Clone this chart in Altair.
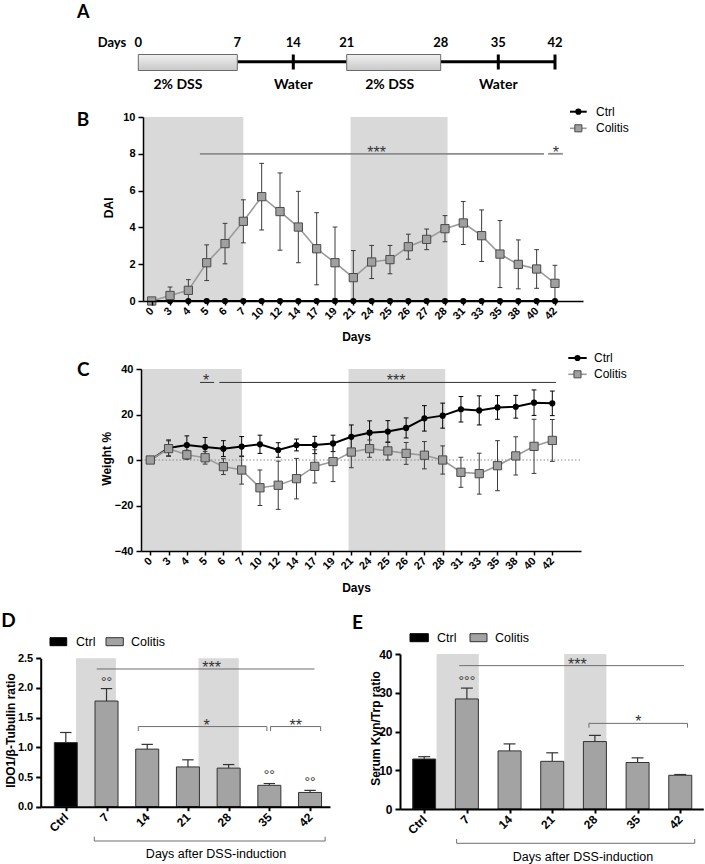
import altair as alt
import pandas as pd

W, H = 705, 864
ARIAL = "Liberation Sans"
CALI = "Lato"
SHADE = "#d9d9d9"
GREY = "#a3a3a3"

# ---------------- Panel A: protocol timeline ----------------
tl_days = [0, 7, 14, 21, 28, 35, 42]
dss_start = [0, 21]
dss_end = [7, 28]
water_start = [7, 28]
water_end = [21, 42]
tick_days = [14, 35, 42]
phase_labels = ["2% DSS", "Water", "2% DSS", "Water"]
phase_day = [2.8, 14, 24.2, 35]

# ---------------- Panels B and C ----------------
days = [0, 3, 4, 5, 6, 7, 10, 12, 14, 17, 19, 21, 24, 25, 26, 27, 28, 31, 33, 35, 38, 40, 42]
series = ["Ctrl", "Colitis"]
dai_ctrl = [0, 0, 0, 0, 0, 0, 0, 0, 0, 0, 0, 0, 0, 0, 0, 0, 0, 0, 0, 0, 0, 0, 0]
dai_colitis = [0, 0.3, 0.58, 2.08, 3.12, 4.33, 5.67, 4.86, 4.02, 2.84, 2.08, 1.27,
               2.12, 2.25, 2.95, 3.35, 3.93, 4.24, 3.55, 2.55, 1.99, 1.74, 0.96]
dai_colitis_sd = [0, 0.46, 0.58, 0.97, 1.1, 1.17, 1.81, 2.1, 1.94, 1.96, 1.94, 1.47,
                  0.9, 0.77, 0.68, 0.56, 0.71, 1.17, 1.4, 1.82, 1.33, 1.05, 0.98]
wt_ctrl = [0, 5.3, 6.6, 5.7, 5.0, 5.9, 6.9, 4.4, 6.6, 6.6, 7.3, 10.2,
           12.0, 12.5, 14.1, 18.3, 19.5, 22.3, 21.8, 23.1, 23.4, 25.2, 24.9]
wt_ctrl_sd = [0, 3.5, 4.0, 4.2, 3.5, 4.4, 4.0, 3.2, 2.6, 3.8, 3.6, 5.2,
              5.2, 4.8, 4.4, 5.6, 5.5, 5.6, 6.4, 5.2, 5.0, 5.6, 5.4]
wt_colitis = [0, 5.0, 2.3, 1.0, -2.9, -4.4, -12.2, -11.1, -8.2, -2.8, -0.7, 3.5,
              5.0, 4.0, 2.9, 2.1, 0.0, -5.4, -6.0, -2.5, 1.8, 6.0, 8.6]
wt_colitis_sd = [0, 3.4, 2.0, 2.8, 3.5, 6.2, 7.8, 10.6, 8.9, 7.3, 8.8, 6.9,
                 3.8, 4.0, 4.8, 6.0, 6.2, 6.6, 9.0, 11.0, 8.4, 11.9, 9.2]

# significance annotations (x in category-index units)
B_sig_x1 = [2.63, 21.63]
B_sig_x2 = [21.4, 22.43]
B_sig_y = [8.0, 8.0]
B_sig_lab = ["***", "*"]
B_sig_lx = [12.27, 22.05]
C_sig_x1 = [2.72, 3.78]
C_sig_x2 = [3.49, 22.2]
C_sig_y = [34.1, 34.1]
C_sig_lab = ["*", "***"]
C_sig_lx = [3.05, 13.45]
BC_shade2 = [10.85, 16.14]
BC_shade1_end = 5.0

# ---------------- Panels D and E ----------------
groups = ["Ctrl", "7", "14", "21", "28", "35", "42"]
ido1 = [1.08, 1.78, 0.97, 0.67, 0.65, 0.36, 0.24]
ido1_err = [0.17, 0.21, 0.08, 0.12, 0.06, 0.03, 0.035]
kyn = [12.9, 28.4, 15.0, 12.3, 17.4, 12.0, 8.7]
kyn_err = [0.6, 2.8, 1.8, 2.2, 1.6, 1.2, 0.2]

D_shade_s = [0.25, 3.26]
D_shade_e = [1.23, 4.25]
E_shade_s = [0.29, 3.28]
E_shade_e = [1.28, 4.27]

D_line_x1 = [0.76]
D_line_x2 = [6.11]
D_line_y = [2.32]
D_line_lab = ["***"]
D_line_lx = [3.58]
D_br_x1 = [1.78, 5.03]
D_br_x2 = [4.94, 6.26]
D_br_y = [1.35, 1.35]
D_br_drop = 0.075
D_br_lab = ["*", "**"]
D_br_lx = [3.46, 5.65]
D_circ_idx = [1, 5, 6]
D_circ_y = [2.16, 0.60, 0.48]
D_circ_lab = ["°°", "°°", "°°"]

E_line_x1 = [0.82]
E_line_x2 = [6.09]
E_line_y = [37.0]
E_line_lab = ["***"]
E_line_lx = [3.59]
E_br_x1 = [3.86]
E_br_x2 = [6.17]
E_br_y = [22.1]
E_br_drop = 1.1
E_br_lab = ["*"]
E_br_lx = [5.02]
E_circ_idx = [1]
E_circ_y = [34.0]
E_circ_lab = ["°°°"]

bottom_label = "Days after DSS-induction"


# ---------------- helpers ----------------
def axis(orient, offset, values, title, tx=None, ty=None, label_list=None, fmt=None, size=11,
         dw=1.5, angle=None, lpad=3, tsize=12, tweight="bold", tick=5):
    kw = dict(orient=orient, offset=offset, values=values, title=title,
              titleFont=ARIAL, titleFontSize=tsize, titleFontWeight=tweight, titleColor="black",
              titleAlign="center", titleBaseline="middle",
              labelFont=ARIAL, labelFontSize=size, labelFontWeight="bold", labelColor="black",
              labelPadding=lpad, labelOverlap=False, labelFlush=False,
              domainColor="black", domainWidth=dw, tickColor="black", tickWidth=dw, tickSize=tick,
              grid=False, zindex=1)
    if tx is not None:
        kw["titleX"] = tx
    if ty is not None:
        kw["titleY"] = ty
    if label_list is not None:
        kw["labelExpr"] = "[" + ",".join("'%s'" % s for s in label_list) + "][datum.value]"
    if fmt:
        kw["format"] = fmt
    if angle is not None:
        kw.update(labelAngle=angle, labelAlign="right", labelBaseline="middle")
    return alt.Axis(**kw)


def lin(domain, rng):
    return alt.Scale(domain=domain, range=rng, nice=False, zero=False, padding=0)


def label(text, x, y, size, font=ARIAL, weight="normal", align="center", baseline="middle", color="black"):
    return alt.Chart(pd.DataFrame({"t": [text]})).mark_text(
        font=font, fontSize=size, fontWeight=weight, align=align, baseline=baseline, color=color
    ).encode(x=alt.value(x), y=alt.value(y), text="t:N")


# ======================= Panel A =======================
sA = alt.Scale(domain=tl_days, range=[138.3, 237.3, 293.3, 346.7, 440.7, 498.3, 555.0],
               nice=False, zero=False, padding=0)
xA = lambda f: alt.X(f, scale=sA, axis=None)
grad = alt.Gradient(gradient="linear",
                    stops=[alt.GradientStop(color="#f0f0f0", offset=0),
                           alt.GradientStop(color="#c8c8c8", offset=1)],
                    x1=0, x2=0, y1=0, y2=1)
A_water = alt.Chart(pd.DataFrame({"s": water_start, "e": water_end})).mark_rule(
    color="black", strokeWidth=3).encode(x=xA("s:Q"), x2="e:Q", y=alt.value(61.7))
A_box = alt.Chart(pd.DataFrame({"s": dss_start, "e": dss_end})).mark_rect(
    fill=grad, stroke="#6a6a6a", strokeWidth=1).encode(
    x=xA("s:Q"), x2="e:Q", y=alt.value(54.5), y2=alt.value(70.5))
A_ticks = alt.Chart(pd.DataFrame({"d": tick_days})).mark_rule(
    color="black", strokeWidth=3).encode(x=xA("d:Q"), y=alt.value(54.5), y2=alt.value(69.5))
A_days = alt.Chart(pd.DataFrame({"d": tl_days})).mark_text(
    font=CALI, fontSize=13, fontWeight="bold", color="black").encode(
    x=xA("d:Q"), y=alt.value(42.5), text="d:Q")
A_phase = alt.Chart(pd.DataFrame({"d": phase_day, "t": phase_labels})).mark_text(
    font=CALI, fontSize=14, fontWeight="bold", color="black").encode(
    x=xA("d:Q"), y=alt.value(85), text="t:N")
panelA = alt.layer(
    A_water, A_box, A_ticks, A_days, A_phase,
    label("Days", 112, 42.5, 13, font=CALI, weight="bold"),
    label("A", 83.3, 12.5, 18, font=CALI, weight="bold"),
    label("B", 83, 119.5, 19, font=CALI, weight="bold"),
    label("C", 83.3, 370, 19, font=CALI, weight="bold"),
    label("D", 8.5, 621, 19, font=CALI, weight="bold"),
    label("E", 357.5, 623, 19, font=CALI, weight="bold"),
)


# ======================= Panels B / C =======================
def line_panel(ctrl, ctrl_sd, col, col_sd, xdom, xr, ydom, yr, yvals, ytitle, ytx, yty,
               xtx, xty, sig, shade_col_line, sigcolor, sigwidth, legend_y, legend_x, clip_zero,
               zero_line):
    n = len(days)
    df = pd.DataFrame({"idx": list(range(n)), "ctrl": ctrl, "csd": ctrl_sd, "col": col, "sd": col_sd})
    sx = lin(xdom, xr)
    sy = lin(ydom, yr)
    ax = axis("bottom", yr[0] - H, list(range(n)), "Days", xtx, xty,
              label_list=[str(d) for d in days], angle=315, lpad=4, size=11, tick=4)
    ay = axis("left", -xr[0], yvals, ytitle, ytx, yty, size=11)
    X = lambda f: alt.X(f, scale=sx, axis=ax)
    Y = lambda f: alt.Y(f, scale=sy, axis=ay)

    layers = []
    shade = alt.Chart(pd.DataFrame({"s": [xdom[0], BC_shade2[0]], "e": [BC_shade1_end, BC_shade2[1]]})
                      ).mark_rect(color=SHADE).encode(
        x=X("s:Q"), x2="e:Q",
        y=alt.YDatum(ydom[0], scale=sy, axis=ay), y2=alt.Y2Datum(ydom[1]))
    layers.append(shade)
    if zero_line:
        layers.append(alt.Chart(pd.DataFrame({"k": [0]})).mark_rule(
            color="#888888", strokeWidth=1, strokeDash=[1.5, 2]).encode(
            x=alt.XDatum(xdom[0], scale=sx, axis=ax), x2=alt.X2Datum(xdom[1]),
            y=alt.YDatum(0, scale=sy, axis=ay)))
    sx1, sx2, sy_, slab, slx = sig
    sigdf = pd.DataFrame({"x1": sx1, "x2": sx2, "y": sy_, "lab": slab, "lx": slx})
    layers.append(alt.Chart(sigdf).mark_rule(color=sigcolor, strokeWidth=sigwidth).encode(
        x=X("x1:Q"), x2="x2:Q", y=Y("y:Q")))
    layers.append(alt.Chart(sigdf).mark_text(font=ARIAL, fontSize=16, color="#333333",
                                             baseline="alphabetic", dy=4).encode(
        x=X("lx:Q"), y=Y("y:Q"), text="lab:N"))

    lo_expr = "max(0, datum.col - datum.sd)" if clip_zero else "datum.col - datum.sd"
    base = alt.Chart(df).transform_calculate(
        lo=lo_expr, hi="datum.col + datum.sd",
        clo="datum.ctrl - datum.csd", chi="datum.ctrl + datum.csd",
        cl="datum.idx - 0.13", cr="datum.idx + 0.13")
    # ctrl error bars
    cerr = base.transform_filter("datum.csd > 0")
    layers.append(cerr.mark_rule(color="black", strokeWidth=1).encode(
        x=X("idx:Q"), y=Y("clo:Q"), y2="chi:Q"))
    layers.append(cerr.mark_rule(color="black", strokeWidth=1).encode(
        x=X("cl:Q"), x2="cr:Q", y=Y("chi:Q")))
    layers.append(cerr.mark_rule(color="black", strokeWidth=1).encode(
        x=X("cl:Q"), x2="cr:Q", y=Y("clo:Q")))
    # colitis error bars
    err = base.transform_filter("datum.sd > 0")
    layers.append(err.mark_rule(color="#3a3a3a", strokeWidth=1).encode(
        x=X("idx:Q"), y=Y("lo:Q"), y2="hi:Q"))
    layers.append(err.mark_rule(color="#3a3a3a", strokeWidth=1).encode(
        x=X("cl:Q"), x2="cr:Q", y=Y("hi:Q")))
    layers.append(err.mark_rule(color="#3a3a3a", strokeWidth=1).encode(
        x=X("cl:Q"), x2="cr:Q", y=Y("lo:Q")))
    # lines
    layers.append(base.mark_line(color="black", strokeWidth=2).encode(x=X("idx:Q"), y=Y("ctrl:Q")))
    layers.append(base.mark_line(color=shade_col_line, strokeWidth=1.6).encode(x=X("idx:Q"), y=Y("col:Q")))
    # points
    layers.append(base.mark_circle(size=38, color="black", opacity=1).encode(x=X("idx:Q"), y=Y("ctrl:Q")))
    layers.append(base.mark_square(size=68, fill="#a0a0a0", stroke="#4a4a4a", strokeWidth=1,
                                   opacity=1).encode(x=X("idx:Q"), y=Y("col:Q")))
    # legend
    lx0, lx1, ltx = legend_x
    y1, y2 = legend_y
    one = pd.DataFrame({"k": [0]})
    layers.append(alt.Chart(one).mark_rule(color="black", strokeWidth=2).encode(
        x=alt.value(lx0), x2=alt.value(lx1), y=alt.value(y1)))
    layers.append(alt.Chart(one).mark_circle(size=38, color="black", opacity=1).encode(
        x=alt.value((lx0 + lx1) / 2), y=alt.value(y1)))
    layers.append(alt.Chart(one).mark_rule(color=shade_col_line, strokeWidth=1.6).encode(
        x=alt.value(lx0), x2=alt.value(lx1), y=alt.value(y2)))
    layers.append(alt.Chart(one).mark_square(size=50, fill="#a0a0a0", stroke="#4a4a4a", strokeWidth=1,
                                             opacity=1).encode(
        x=alt.value((lx0 + lx1) / 2), y=alt.value(y2)))
    layers.append(label(series[0], ltx, y1, 12, align="left"))
    layers.append(label(series[1], ltx, y2, 12, align="left"))
    return alt.layer(*layers)


panelB = line_panel(dai_ctrl, [0] * len(days), dai_colitis, dai_colitis_sd,
                    [-0.475, 23.53], [143, 583], [0, 10], [301, 117], [0, 2, 4, 6, 8, 10],
                    "DAI", -34.7, 207.3, 356, 35,
                    (B_sig_x1, B_sig_x2, B_sig_y, B_sig_lab, B_sig_lx), "#9a9a9a", "#8c8c8c", 1.8,
                    (111.7, 128.3), (570, 586.7, 596), True, False)
panelC = line_panel(wt_ctrl, wt_ctrl_sd, wt_colitis, wt_colitis_sd,
                    [-0.51, 23.57], [141, 581], [-40, 40], [551, 369], [-40, -20, 0, 20, 40],
                    "Weight %", -34.3, 458.3, 356, 36,
                    (C_sig_x1, C_sig_x2, C_sig_y, C_sig_lab, C_sig_lx), "#9a9a9a", "#333333", 1,
                    (358, 374.3), (568.3, 586.7, 594), False, True)


# ======================= Panels D / E =======================
def bar_panel(vals, errs, xdom, xr, ydom, yr, yvals, fmt, ytitle, ytx, yty, shade_s, shade_e,
              line, br, br_drop, circ, bottom, legend, barw, ysize):
    n = len(groups)
    df = pd.DataFrame({"idx": list(range(n)), "v": vals, "e": errs})
    sx = lin(xdom, xr)
    sy = lin(ydom, yr)
    ax = axis("bottom", yr[0] - H, list(range(n)), None, label_list=groups,
              angle=315, lpad=4, size=12, dw=2, tick=4)
    ay = axis("left", -xr[0], yvals, ytitle, ytx, yty, fmt=fmt, size=ysize, dw=2, tsize=12)
    X = lambda f: alt.X(f, scale=sx, axis=ax)
    Y = lambda f: alt.Y(f, scale=sy, axis=ay)
    layers = []
    layers.append(alt.Chart(pd.DataFrame({"s": shade_s, "e": shade_e})).mark_rect(color=SHADE).encode(
        x=X("s:Q"), x2="e:Q", y=alt.YDatum(ydom[0], scale=sy, axis=ay), y2=alt.Y2Datum(ydom[1])))
    base = alt.Chart(df).transform_calculate(top="datum.v + datum.e",
                                             cl="datum.idx - 0.14", cr="datum.idx + 0.14")
    layers.append(base.mark_rule(color="#333333", strokeWidth=1.2).encode(
        x=X("idx:Q"), y=Y("v:Q"), y2="top:Q"))
    layers.append(base.mark_rule(color="#333333", strokeWidth=1.2).encode(
        x=X("cl:Q"), x2="cr:Q", y=Y("top:Q")))
    layers.append(base.mark_bar(size=barw, stroke="#333333", strokeWidth=1, orient="vertical").encode(
        x=X("idx:Q"), y=Y("v:Q"),
        color=alt.condition("datum.idx == 0", alt.value("black"), alt.value(GREY))))
    # significance line
    lx1, lx2, ly, llab, llx = line
    ldf = pd.DataFrame({"x1": lx1, "x2": lx2, "y": ly, "lab": llab, "lx": llx})
    layers.append(alt.Chart(ldf).mark_rule(color="#6e6e6e", strokeWidth=1).encode(
        x=X("x1:Q"), x2="x2:Q", y=Y("y:Q")))
    layers.append(alt.Chart(ldf).mark_text(font=ARIAL, fontSize=16, color="#333333",
                                           baseline="alphabetic", dy=4).encode(
        x=X("lx:Q"), y=Y("y:Q"), text="lab:N"))
    # brackets
    bx1, bx2, by, blab, blx = br
    bdf = pd.DataFrame({"x1": bx1, "x2": bx2, "y": by, "lab": blab, "lx": blx})
    bb = alt.Chart(bdf).transform_calculate(yd="datum.y - %f" % br_drop)
    layers.append(bb.mark_rule(color="#6e6e6e", strokeWidth=1).encode(x=X("x1:Q"), x2="x2:Q", y=Y("y:Q")))
    layers.append(bb.mark_rule(color="#6e6e6e", strokeWidth=1).encode(x=X("x1:Q"), y=Y("yd:Q"), y2="y:Q"))
    layers.append(bb.mark_rule(color="#6e6e6e", strokeWidth=1).encode(x=X("x2:Q"), y=Y("yd:Q"), y2="y:Q"))
    layers.append(bb.mark_text(font=ARIAL, fontSize=16, color="#333333", baseline="alphabetic", dy=4).encode(
        x=X("lx:Q"), y=Y("y:Q"), text="lab:N"))
    # circles
    cidx, cy, clab = circ
    layers.append(alt.Chart(pd.DataFrame({"idx": cidx, "y": cy, "lab": clab})).mark_text(
        font=ARIAL, fontSize=14, color="#333333", baseline="alphabetic", dy=9).encode(
        x=X("idx:Q"), y=Y("y:Q"), text="lab:N"))
    # bottom bracket
    bx1, bx2, by, byt, btx, bty = bottom
    bot = alt.Chart(pd.DataFrame({"x1": [bx1], "x2": [bx2], "y": [by], "yt": [byt],
                                  "lx": [btx], "ly": [bty], "lab": [bottom_label]}))
    layers.append(bot.mark_rule(color="#6e6e6e", strokeWidth=1).encode(x=X("x1:Q"), x2="x2:Q", y=Y("y:Q")))
    layers.append(bot.mark_rule(color="#6e6e6e", strokeWidth=1).encode(x=X("x1:Q"), y=Y("y:Q"), y2="yt:Q"))
    layers.append(bot.mark_rule(color="#6e6e6e", strokeWidth=1).encode(x=X("x2:Q"), y=Y("y:Q"), y2="yt:Q"))
    layers.append(bot.mark_text(font=ARIAL, fontSize=12.5, color="black").encode(
        x=X("lx:Q"), y=Y("ly:Q"), text="lab:N"))
    # legend
    (c0, c1, ct), (g0, g1, gt), ly0 = legend
    one = pd.DataFrame({"k": [0]})
    layers.append(alt.Chart(one).mark_rect(color="black", stroke="black", strokeWidth=1).encode(
        x=alt.value(c0), x2=alt.value(c1), y=alt.value(ly0 - 4), y2=alt.value(ly0 + 4)))
    layers.append(alt.Chart(one).mark_rect(color=GREY, stroke="#333333", strokeWidth=1).encode(
        x=alt.value(g0), x2=alt.value(g1), y=alt.value(ly0 - 4), y2=alt.value(ly0 + 4)))
    layers.append(label(series[0], ct, ly0, 12.5, align="left"))
    layers.append(label(series[1], gt, ly0, 12.5, align="left"))
    return alt.layer(*layers)


panelD = bar_panel(ido1, ido1_err, [-0.617, 6.49], [40.7, 330], [0, 2.5], [806.7, 658.3],
                   [0, 0.5, 1.0, 1.5, 2.0, 2.5], ".1f", "IDO1/β-Tubulin ratio", -30.7, 730,
                   D_shade_s, D_shade_e,
                   (D_line_x1, D_line_x2, D_line_y, D_line_lab, D_line_lx),
                   (D_br_x1, D_br_x2, D_br_y, D_br_lab, D_br_lx), D_br_drop,
                   (D_circ_idx, D_circ_y, D_circ_lab),
                   (0.70, 6.37, -0.578, -0.505, 3.69, -0.795),
                   ((50, 66.7, 76), (106, 123.3, 131), 641.7), 23, 11)
panelE = bar_panel(kyn, kyn_err, [-0.567, 6.54], [400, 703.3], [0, 40], [809, 654],
                   [0, 10, 20, 30, 40], None, "Serum Kyn/Trp ratio", -25, 728,
                   E_shade_s, E_shade_e,
                   (E_line_x1, E_line_x2, E_line_y, E_line_lab, E_line_lx),
                   (E_br_x1, E_br_x2, E_br_y, E_br_lab, E_br_lx), E_br_drop,
                   (E_circ_idx, E_circ_y, E_circ_lab),
                   (0.76, 6.34, -8.85, -7.74, 3.72, -12.3),
                   ((410, 428.3, 437), (470, 487, 495), 637.7), 23, 12)

chart = alt.layer(panelA, panelB, panelC, panelD, panelE).resolve_scale(
    x="independent", y="independent").resolve_axis(x="independent", y="independent").properties(
    width=W, height=H, padding=0, autosize=alt.AutoSizeParams(type="none"), background="white"
).configure_view(stroke=None)

chart.save("out.html", embed_options={"renderer": "svg", "actions": False})
